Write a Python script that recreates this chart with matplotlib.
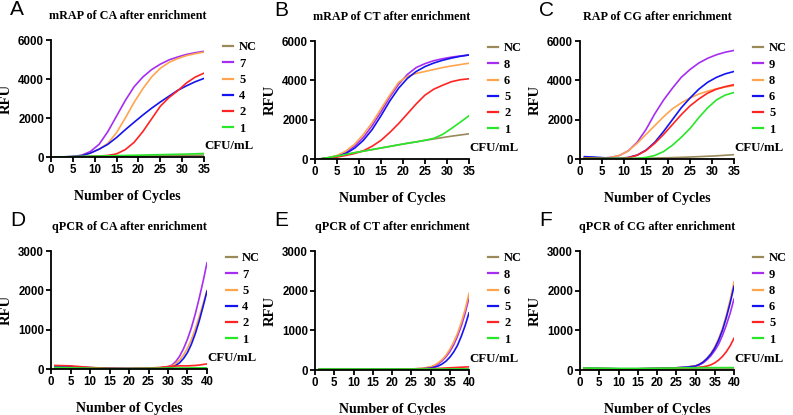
import matplotlib
matplotlib.use("Agg")
import matplotlib.pyplot as plt

cycles_top = [1, 3, 5, 7, 9, 11, 13, 15, 17, 19, 21, 23, 25, 27, 29, 31, 33, 35]
cycles_bottom = [1, 5, 10, 15, 20, 25, 28, 30, 31, 32, 33, 34, 35, 36, 37, 38, 39, 40]

# A: mRAP of CA
a_labels = ["NC", "7", "5", "4", "2", "1"]
a_nc = [0, 5, 10, 15, 20, 25, 30, 35, 40, 45, 50, 55, 60, 65, 70, 80, 90, 100]
a_7 = [0, 10, 30, 90, 280, 650, 1300, 2100, 2900, 3600, 4100, 4480, 4760, 4980, 5130, 5260, 5350, 5420]
a_5 = [0, 5, 20, 70, 200, 400, 700, 1250, 2000, 2800, 3500, 4100, 4550, 4850, 5050, 5200, 5300, 5380]
a_4 = [0, 5, 20, 70, 200, 400, 650, 1000, 1400, 1780, 2150, 2500, 2820, 3120, 3420, 3650, 3860, 4030]
a_2 = [0, 5, 10, 20, 30, 50, 80, 160, 380, 750, 1300, 1950, 2600, 3050, 3400, 3800, 4100, 4300]
a_1 = [0, 10, 20, 30, 40, 50, 60, 70, 80, 90, 100, 110, 120, 130, 140, 150, 165, 180]

# B: mRAP of CT
b_labels = ["NC", "8", "6", "5", "2", "1"]
b_nc = [0, 70, 150, 230, 320, 400, 480, 560, 640, 720, 800, 870, 950, 1020, 1090, 1160, 1220, 1280]
b_8 = [0, 50, 150, 330, 650, 1100, 1700, 2400, 3150, 3800, 4300, 4650, 4850, 5000, 5100, 5180, 5240, 5290]
b_6 = [0, 60, 180, 400, 750, 1250, 1850, 2550, 3250, 3900, 4200, 4350, 4450, 4550, 4650, 4730, 4800, 4870]
b_5 = [0, 40, 120, 280, 550, 950, 1500, 2200, 2950, 3600, 4100, 4450, 4700, 4880, 5020, 5130, 5220, 5290]
b_2 = [0, 40, 100, 180, 280, 420, 650, 950, 1350, 1800, 2300, 2800, 3250, 3550, 3750, 3930, 4030, 4080]
b_1 = [0, 70, 150, 230, 320, 400, 480, 560, 640, 720, 800, 870, 950, 1050, 1250, 1550, 1870, 2200]

# C: RAP of CG
c_labels = ["NC", "9", "8", "6", "5", "1"]
c_nc = [10, 12, 15, 20, 25, 30, 35, 40, 50, 60, 70, 85, 100, 120, 140, 160, 190, 220]
c_9 = [50, 40, 40, 80, 180, 420, 850, 1500, 2300, 3000, 3600, 4150, 4550, 4880, 5120, 5300, 5430, 5520]
c_8 = [40, 40, 40, 80, 180, 420, 800, 1250, 1700, 2150, 2550, 2850, 3100, 3300, 3450, 3570, 3660, 3730]
c_6 = [120, 100, 70, 40, 30, 80, 200, 450, 850, 1400, 2000, 2600, 3100, 3550, 3900, 4150, 4330, 4450]
c_5 = [60, 50, 40, 30, 20, 70, 190, 430, 800, 1250, 1750, 2250, 2700, 3050, 3350, 3550, 3680, 3780]
c_1 = [30, 30, 30, 30, 30, 30, 30, 80, 180, 380, 700, 1100, 1550, 2100, 2600, 3000, 3250, 3380]

# D: qPCR of CA
d_labels = ["NC", "7", "5", "4", "2", "1"]
d_nc = [20, 20, 20, 15, 15, 15, 15, 15, 15, 15, 15, 15, 15, 15, 15, 15, 15, 15]
d_7 = [60, 50, 30, 15, 10, 20, 30, 60, 100, 190, 330, 520, 760, 1050, 1400, 1800, 2230, 2700]
d_5 = [50, 40, 30, 15, 10, 20, 30, 50, 80, 140, 230, 360, 530, 750, 1020, 1330, 1660, 2000]
d_4 = [70, 60, 35, 15, 10, 10, 15, 30, 50, 90, 160, 270, 420, 630, 900, 1220, 1590, 1980]
d_2 = [90, 80, 40, 15, 10, 20, 40, 60, 70, 75, 80, 80, 80, 85, 90, 100, 115, 130]
d_1 = [40, 30, 20, 10, 10, 15, 20, 25, 25, 25, 25, 25, 25, 30, 30, 30, 30, 30]

# E: qPCR of CT
e_labels = ["NC", "8", "6", "5", "2", "1"]
e_nc = [30, 30, 30, 25, 25, 25, 25, 25, 25, 25, 25, 25, 25, 25, 25, 25, 25, 25]
e_8 = [20, 20, 20, 20, 20, 25, 40, 70, 100, 150, 230, 330, 460, 630, 850, 1110, 1430, 1820]
e_6 = [20, 20, 20, 20, 20, 25, 45, 80, 120, 180, 260, 370, 520, 700, 920, 1200, 1530, 1930]
e_5 = [20, 20, 20, 20, 20, 20, 30, 50, 70, 100, 150, 220, 320, 450, 620, 850, 1120, 1440]
e_2 = [20, 20, 20, 20, 20, 25, 30, 35, 38, 40, 45, 50, 55, 60, 65, 70, 75, 80]
e_1 = [20, 20, 20, 20, 20, 20, 20, 20, 20, 20, 20, 20, 20, 20, 20, 20, 20, 20]

# F: qPCR of CG
f_labels = ["NC", "9", "8", "6", "5", "1"]
f_nc = [55, 45, 30, 25, 25, 25, 25, 25, 25, 25, 25, 25, 25, 25, 25, 25, 25, 25]
f_9 = [40, 35, 30, 30, 40, 55, 70, 100, 130, 180, 260, 360, 490, 650, 870, 1130, 1430, 1790]
f_8 = [40, 35, 30, 30, 40, 55, 80, 110, 150, 210, 300, 420, 580, 790, 1050, 1380, 1770, 2220]
f_6 = [40, 35, 30, 30, 40, 55, 75, 100, 140, 200, 290, 400, 550, 750, 1000, 1320, 1690, 2110]
f_5 = [30, 30, 30, 30, 35, 45, 55, 60, 70, 80, 100, 130, 180, 250, 340, 460, 610, 800]
f_1 = [50, 45, 40, 40, 45, 50, 55, 55, 55, 60, 60, 60, 60, 60, 60, 60, 60, 60]

colors = ["#9a8a5a", "#a62ef0", "#ffa550", "#1414f0", "#ff2424", "#28e628"]

serif = "Liberation Serif"
sans = "Liberation Sans"

W, H = 793, 415
fig = plt.figure(figsize=(W / 100, H / 100), dpi=100)


def box(l, r, t, b):
    return [l / W, 1 - b / H, (r - l) / W, (b - t) / H]


panels = [
    ("A", "mRAP of CA after enrichment", box(51, 204, 40, 157), cycles_top, [a_nc, a_7, a_5, a_4, a_2, a_1], a_labels, 35, 6000, 2000),
    ("B", "mRAP of CT after enrichment", box(315, 469, 41, 159), cycles_top, [b_nc, b_8, b_6, b_5, b_2, b_1], b_labels, 35, 6000, 2000),
    ("C", "RAP of CG after enrichment", box(580, 734, 41, 159), cycles_top, [c_nc, c_9, c_8, c_6, c_5, c_1], c_labels, 35, 6000, 2000),
    ("D", "qPCR of CA after enrichment", box(51, 207, 251, 369), cycles_bottom, [d_nc, d_7, d_5, d_4, d_2, d_1], d_labels, 40, 3000, 1000),
    ("E", "qPCR of CT after enrichment", box(315, 469, 251, 370), cycles_bottom, [e_nc, e_8, e_6, e_5, e_2, e_1], e_labels, 40, 3000, 1000),
    ("F", "qPCR of CG after enrichment", box(580, 734, 251, 370), cycles_bottom, [f_nc, f_9, f_8, f_6, f_5, f_1], f_labels, 40, 3000, 1000),
]

for letter, title, pos, xs, series, labels, xmax, ymax, ystep in panels:
    ax = fig.add_axes(pos)
    for ys, lab, col in zip(series, labels, colors):
        ax.plot(xs, ys, color=col, lw=1.2, label=lab)
    ax.set_xlim(0, xmax)
    ax.set_ylim(0, ymax)
    ax.set_xticks(range(0, xmax + 1, 5))
    ax.set_yticks(range(0, ymax + 1, ystep))
    for s in ["top", "right"]:
        ax.spines[s].set_visible(False)
    for s in ["left", "bottom"]:
        ax.spines[s].set_linewidth(1.3)
    ax.tick_params(direction="out", length=3.5, width=1.3, pad=1.5)
    for t in ax.get_xticklabels() + ax.get_yticklabels():
        t.set_fontfamily(sans)
        t.set_fontweight("bold")
        t.set_fontsize(8.3)
    ax.set_title(title, fontfamily=serif, fontweight="bold", fontsize=8.7, pad=15)
    ax.set_xlabel("Number of Cycles", fontfamily=serif, fontweight="bold", fontsize=10, labelpad=10)
    ax.set_ylabel("RFU", fontfamily=serif, fontweight="bold", fontsize=10.5, labelpad=4)
    leg = ax.legend(loc="upper left", bbox_to_anchor=(1.09, 1.03), frameon=False,
                    handlelength=0.85, handletextpad=0.45, labelspacing=0.34, borderaxespad=0,
                    prop={"family": serif, "weight": "bold", "size": 9})
    for h in leg.get_lines():
        h.set_linewidth(1.6)
    ax.text(1.0, 0.09, "CFU/mL", transform=ax.transAxes, fontfamily=serif,
            fontweight="bold", fontsize=9.3, va="center", ha="left")
    fig.text(pos[0] - 41 / W, pos[1] + pos[3] + 21 / H, letter, fontfamily=sans,
             fontsize=15, va="bottom", ha="left")

fig.savefig("out.png", dpi=100)
